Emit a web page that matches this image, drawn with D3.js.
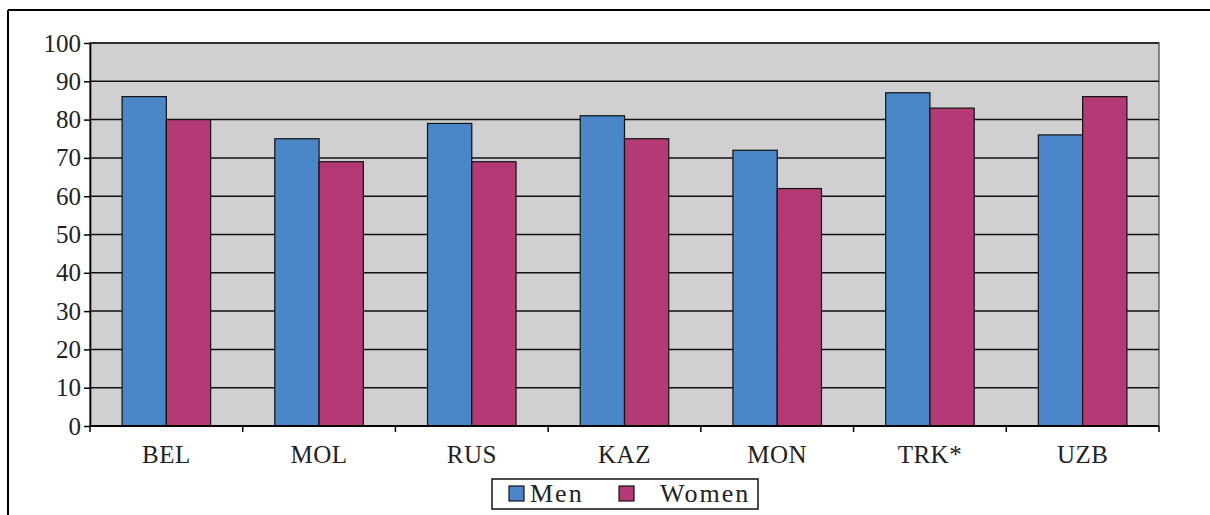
<!DOCTYPE html>
<html>
<head>
<meta charset="utf-8">
<script src="https://cdn.jsdelivr.net/npm/d3@7"></script>
<style>
  html, body { margin: 0; padding: 0; background: #fff; }
  svg { display: block; }
  text { font-family: "Liberation Serif", "DejaVu Serif", serif; fill: #222; }
</style>
</head>
<body>
<svg id="chart" width="1210" height="515"></svg>
<script>
// Share of respondents by country and sex (%)
const categories = ["BEL", "MOL", "RUS", "KAZ", "MON", "TRK*", "UZB"];
const seriesNames = ["Men", "Women"];
const menValues = [86, 75, 79, 81, 72, 87, 76];
const womenValues = [80, 69, 69, 75, 62, 83, 86];
const yTicks = [0, 10, 20, 30, 40, 50, 60, 70, 80, 90, 100];
const colors = ["#4a86c8", "#b33a74"];

const svg = d3.select("#chart");

// outer frame (top and left edges visible)
svg.append("line").attr("x1", 8).attr("y1", 10).attr("x2", 1210).attr("y2", 10)
  .attr("stroke", "#000").attr("stroke-width", 2);
svg.append("line").attr("x1", 8).attr("y1", 10).attr("x2", 8).attr("y2", 515)
  .attr("stroke", "#000").attr("stroke-width", 2);

const plot = { left: 90, top: 43, right: 1159, bottom: 426 };

const x = d3.scaleBand().domain(categories).range([plot.left, plot.right]).paddingInner(0).paddingOuter(0);
const y = d3.scaleLinear().domain([0, 100]).range([plot.bottom, plot.top]);

// gap = 150% of a bar width
const barW = x.bandwidth() / 3.45;
const inner = d3.scaleBand().domain(seriesNames)
  .range([(x.bandwidth() - barW * 2) / 2, (x.bandwidth() + barW * 2) / 2]);

// plot background
svg.append("rect")
  .attr("x", plot.left).attr("y", plot.top)
  .attr("width", plot.right - plot.left).attr("height", plot.bottom - plot.top)
  .attr("fill", "#d0d0d0").attr("stroke", "#444").attr("stroke-width", 1.2);

// horizontal gridlines
svg.append("g").selectAll("line").data(yTicks.filter(d => d > 0)).join("line")
  .attr("x1", plot.left).attr("x2", plot.right)
  .attr("y1", d => y(d)).attr("y2", d => y(d))
  .attr("stroke", "#111").attr("stroke-width", 1.5);

// bars
const data = categories.map((c, i) => ({ cat: c, vals: [menValues[i], womenValues[i]] }));
const groups = svg.append("g").selectAll("g").data(data).join("g")
  .attr("transform", d => `translate(${x(d.cat)},0)`);
groups.selectAll("rect").data(d => d.vals.map((v, j) => ({ name: seriesNames[j], v, j }))).join("rect")
  .attr("x", d => inner(d.name))
  .attr("width", inner.bandwidth())
  .attr("y", d => y(d.v))
  .attr("height", d => y(0) - y(d.v))
  .attr("fill", d => colors[d.j])
  .attr("stroke", "#111").attr("stroke-width", 1.2);

// y axis
const yAxis = d3.axisLeft(y).tickValues(yTicks).tickSize(6).tickPadding(3).tickSizeOuter(0);
const gy = svg.append("g").attr("transform", `translate(${plot.left},0)`).call(yAxis);
gy.attr("font-family", null);
gy.select(".domain").attr("stroke", "#000").attr("stroke-width", 1.6);
gy.selectAll(".tick line").attr("stroke", "#000").attr("stroke-width", 1.5);
gy.selectAll(".tick text").attr("font-size", 25).attr("fill", "#222");

// x axis with ticks at category boundaries
const gx = svg.append("g").attr("transform", `translate(0,${plot.bottom})`);
gx.append("line").attr("x1", plot.left).attr("x2", plot.right).attr("y1", 0).attr("y2", 0)
  .attr("stroke", "#000").attr("stroke-width", 1.8);
const boundaries = categories.map(c => x(c)).concat([plot.right]);
gx.selectAll("line.tick").data(boundaries).join("line").attr("class", "tick")
  .attr("x1", d => d).attr("x2", d => d).attr("y1", 0).attr("y2", 6)
  .attr("stroke", "#000").attr("stroke-width", 1.5);
gx.selectAll("text").data(categories).join("text")
  .attr("x", d => x(d) + x.bandwidth() / 2)
  .attr("y", 37)
  .attr("text-anchor", "middle")
  .attr("font-size", 25)
  .attr("letter-spacing", 0.5)
  .text(d => d);

// legend
const legend = svg.append("g");
legend.append("rect").attr("x", 492).attr("y", 479).attr("width", 266).attr("height", 30)
  .attr("fill", "#fff").attr("stroke", "#111").attr("stroke-width", 1.5);
const legendItems = [
  { name: seriesNames[0], sx: 509, tx: 530 },
  { name: seriesNames[1], sx: 619, tx: 660 }
];
legendItems.forEach((it, i) => {
  legend.append("rect").attr("x", it.sx).attr("y", 486).attr("width", 15).attr("height", 15)
    .attr("fill", colors[i]).attr("stroke", "#111").attr("stroke-width", 1.2);
  legend.append("text").attr("x", it.tx).attr("y", 502)
    .attr("font-size", 26).attr("letter-spacing", 2).text(it.name);
});
</script>
</body>
</html>
